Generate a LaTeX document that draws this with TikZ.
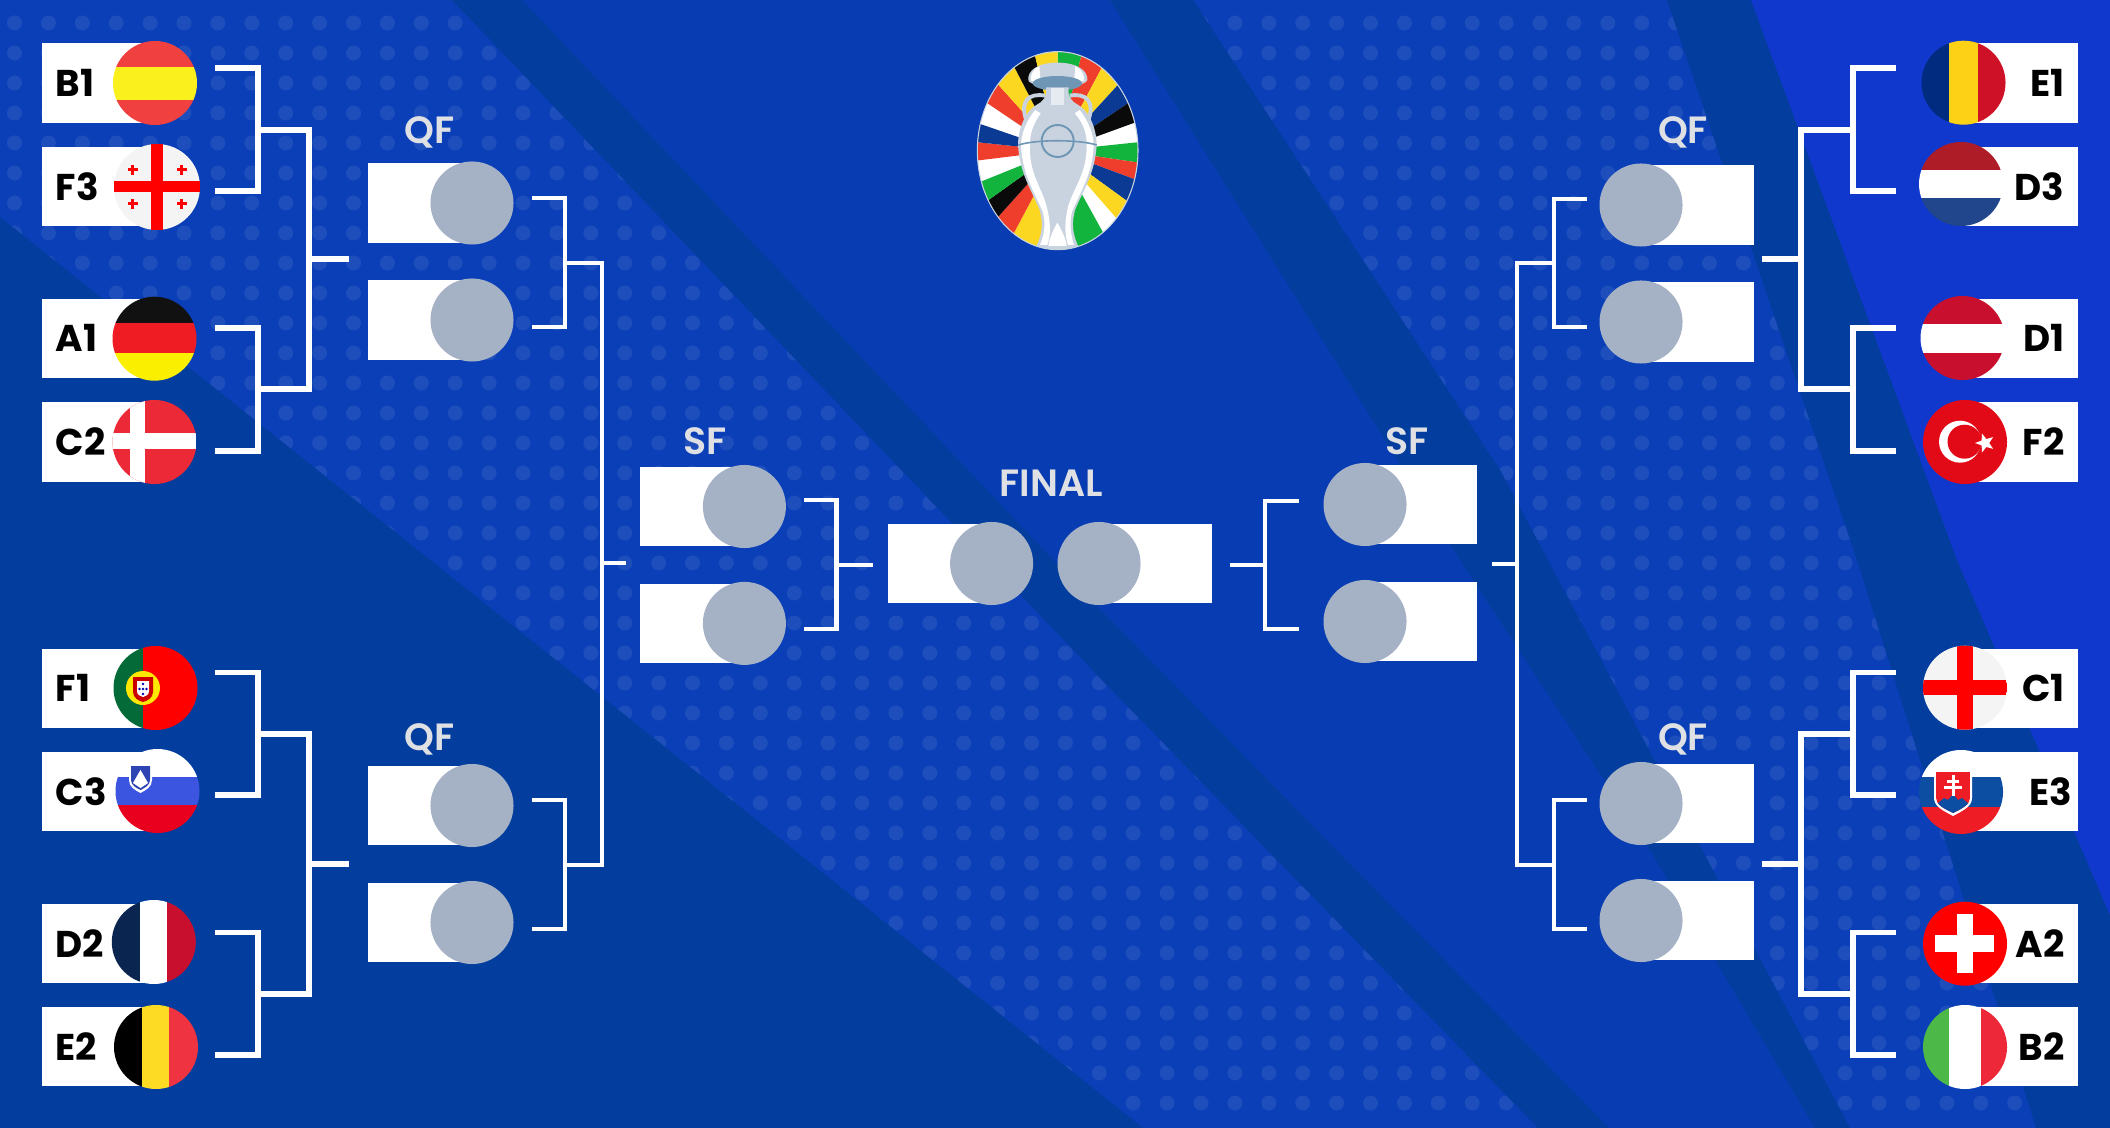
\documentclass[tikz,border=0pt]{standalone}
\usepackage{fontspec}
\setmainfont{Poppins}
\newfontfamily\tagfont{Poppins SemiBold}
\usetikzlibrary{shapes.geometric}

% Background
\definecolor{basecol}{RGB}{8,60,178}
\definecolor{patchcol}{RGB}{10,63,184}
\definecolor{darkcol}{RGB}{3,62,158}
\definecolor{brightcol}{RGB}{16,56,204}
\definecolor{dotcol}{RGB}{30,78,188}
\definecolor{ballcol}{RGB}{165,177,197}
\definecolor{tagcol}{RGB}{222,224,228}
% Logo
\definecolor{rayyellow}{RGB}{251,215,33}
\definecolor{rayred}{RGB}{240,62,44}
\definecolor{rayblue}{RGB}{10,58,147}
\definecolor{rayblack}{RGB}{10,10,10}
\definecolor{raygreen}{RGB}{18,180,62}
\definecolor{cupsilver}{RGB}{200,211,223}
\definecolor{cupblue}{RGB}{111,151,181}
% Flags
\definecolor{esred}{RGB}{240,64,64}
\definecolor{esyellow}{RGB}{249,240,30}
\definecolor{deblack}{RGB}{17,17,17}
\definecolor{dered}{RGB}{239,28,36}
\definecolor{deyellow}{RGB}{251,239,0}
\definecolor{dkred}{RGB}{236,41,55}
\definecolor{ptgreen}{RGB}{4,106,56}
\definecolor{siblue}{RGB}{59,85,224}
\definecolor{sired}{RGB}{232,0,30}
\definecolor{frblue}{RGB}{10,37,80}
\definecolor{frred}{RGB}{200,16,46}
\definecolor{beyellow}{RGB}{253,218,36}
\definecolor{bered}{RGB}{239,51,64}
\definecolor{roblue}{RGB}{0,43,127}
\definecolor{royellow}{RGB}{252,209,22}
\definecolor{rored}{RGB}{206,17,38}
\definecolor{nlred}{RGB}{174,28,40}
\definecolor{nlblue}{RGB}{33,70,139}
\definecolor{atred}{RGB}{200,16,46}
\definecolor{trred}{RGB}{227,10,23}
\definecolor{skblue}{RGB}{11,78,162}
\definecolor{skred}{RGB}{238,28,37}
\definecolor{itgreen}{RGB}{76,184,72}
\definecolor{itred}{RGB}{237,41,57}
\definecolor{offwhite}{RGB}{244,244,244}

\tikzset{
  teamleft/.style={anchor=west, fill=white, inner xsep=0.14cm, inner ysep=0pt, text width=0.86cm,
    minimum height=0.79cm, align=left, font=\bfseries\fontsize{10.6}{12}\selectfont},
  teamright/.style={anchor=east, fill=white, inner xsep=0.135cm, inner ysep=0pt, text width=0.88cm,
    minimum height=0.79cm, align=right, font=\bfseries\fontsize{10.6}{12}\selectfont},
  slotleft/.style={anchor=west, fill=white, inner sep=0pt, minimum height=0.79cm},
  slotright/.style={anchor=east, fill=white, inner sep=0pt, minimum height=0.79cm},
  ball/.style={circle, fill=ballcol, inner sep=0pt, minimum size=0.83cm},
  roundtag/.style={anchor=base, text=tagcol, inner sep=0pt, font=\tagfont\fontsize{10.8}{12}\selectfont},
  link/.style={draw=white, line width=1.5pt},
  thinlink/.style={draw=white, line width=1.2pt},
}

% x, y, two band edges, three colours
\newcommand{\flagH}[7]{%
  \begin{scope}
    \clip (#1,#2) circle (42);
    \fill[#5] (#1-43,#2-43) rectangle (#1+43,#3);
    \fill[#6] (#1-43,#3) rectangle (#1+43,#4);
    \fill[#7] (#1-43,#4) rectangle (#1+43,#2+43);
  \end{scope}}
\newcommand{\flagV}[7]{%
  \begin{scope}
    \clip (#1,#2) circle (42);
    \fill[#5] (#1-43,#2-43) rectangle (#3,#2+43);
    \fill[#6] (#3,#2-43) rectangle (#4,#2+43);
    \fill[#7] (#4,#2-43) rectangle (#1+43,#2+43);
  \end{scope}}

\begin{document}
\begin{tikzpicture}[x=0.01cm, y=-0.01cm]
  \useasboundingbox (0,0) rectangle (2110,1128);
  % Background
  \fill[basecol] (0,0) rectangle (2110,1128);
  \fill[patchcol] (0,0) -- (452,0) -- (1100,678) -- (1538,1128) -- (1143,1128) -- (0,217) -- cycle;
  \fill[patchcol] (1193,0) -- (1667,0) -- (1857,560) -- (2036,1128) -- (1850,1128) -- (1500,470) -- cycle;
  \begin{scope}
    \clip (0,0) -- (452,0) -- (1100,678) -- (1538,1128) -- (1143,1128) -- (0,217) -- cycle
          (1193,0) -- (1667,0) -- (1857,560) -- (2036,1128) -- (1850,1128) -- (1500,470) -- cycle;
    \foreach \i in {0,...,61}
      \foreach \j in {0,...,36}
        \fill[dotcol] ({14.5+33.9*\i},{23+30*\j}) circle (7.5);
  \end{scope}
  \fill[darkcol] (0,217) -- (1143,1128) -- (0,1128) -- cycle;
  \fill[darkcol] (452,0) -- (522,0) -- (1100,609) -- (1609,1128) -- (1538,1128) -- (1100,678) -- cycle;
  \fill[darkcol] (1110,0) -- (1193,0) -- (1500,470) -- (1850,1128) -- (1815,1128) -- (1650,850) -- (1460,560) -- cycle;
  \fill[darkcol] (1667,0) -- (1751,0) -- (1957,560) -- (2110,915) -- (2110,1128) -- (2036,1128) -- (1857,560) -- cycle;
  \fill[brightcol] (1751,0) -- (2110,0) -- (2110,915) -- (1957,560) -- cycle;

  % Team boxes
  \foreach \n/\y in {B1/83, F3/186.3, A1/338.3, C2/442, F1/688.2, C3/791.5, D2/943.5, E2/1046.8}
    \node[teamleft] (team\n) at (41,\y) {\n};
  \foreach \n/\y in {E1/83, D3/186.3, D1/338.3, F2/442, C1/688.2, A2/943.5, B2/1046.8}
    \node[teamright] (team\n) at (2078.6,\y) {\n};
  \node[teamright, inner xsep=0.06cm, text width=1.03cm] (teamE3) at (2078.6,791.5) {E3};

  % Flags left
  \flagH{155}{83}{66.7}{100}{esred}{esyellow}{esred}
  \fill[offwhite] (157,187) circle (43);
  \fill[red] (151,144) rectangle (163,230);
  \fill[red] (114,181.5) rectangle (200,192.5);
  \foreach \x/\y in {132.6/170, 181.6/170, 132.6/204, 181.6/204} {
    \fill[red] (\x-5,\y-1.5) rectangle (\x+5,\y+1.5);
    \fill[red] (\x-1.5,\y-5) rectangle (\x+1.5,\y+5);
  }
  \flagH{154.5}{338.7}{323}{353}{deblack}{dered}{deyellow}
  \begin{scope}
    \clip (154.5,442) circle (42);
    \fill[dkred] (112,400) rectangle (197,484);
    \fill[white] (130,400) rectangle (145,484);
    \fill[white] (112,433) rectangle (197,449);
  \end{scope}
  \flagV{155.5}{688}{143}{143}{ptgreen}{white}{red}
  \fill[yellow!90!orange] (143,688) circle (17);
  \fill[red!80!black] (133,677) -- (153,677) -- (153,692) .. controls (153,698) and (147,701) .. (143,702) .. controls (139,701) and (133,698) .. (133,692) -- cycle;
  \fill[white] (137,681) -- (149,681) -- (149,691) .. controls (149,695) and (146,696) .. (143,697) .. controls (140,696) and (137,695) .. (137,691) -- cycle;
  \foreach \x/\y in {143/684, 143/689, 143/694, 139.5/689, 146.5/689}
    \fill[blue!70!black] (\x,\y) circle (1.3);
  \flagH{157.5}{791}{777}{805}{white}{siblue}{sired}
  \fill[white] (129,764) -- (152,764) -- (152,780) .. controls (152,787) and (146,790) .. (140.5,793) .. controls (135,790) and (129,787) .. (129,780) -- cycle;
  \fill[siblue!80!black] (131,766) -- (150,766) -- (150,780) .. controls (150,785) and (145,788) .. (140.5,790) .. controls (136,788) and (131,785) .. (131,780) -- cycle;
  \fill[white] (133,783) -- (137,776) -- (140.5,770) -- (144,776) -- (148,783) -- (140.5,788) -- cycle;
  \flagV{153.8}{942}{139.6}{167}{frblue}{white}{frred}
  \flagV{156}{1047}{141.6}{169}{black}{beyellow}{bered}

  % Flags right
  \flagV{1963.5}{82.7}{1949}{1978}{roblue}{royellow}{rored}
  \flagH{1961}{184}{170}{198}{nlred}{white}{nlblue}
  \flagH{1962.5}{338}{324}{352.7}{atred}{white}{atred}
  \fill[trred] (1965,442) circle (42);
  \fill[white] (1960,441.7) circle (21);
  \fill[trred] (1964.5,441.7) circle (17);
  \node[star, star points=5, star point ratio=2.4, shape border rotate=90, fill=white, inner sep=0pt, minimum size=0.2cm] (turkstar) at (1985,443) {};
  \fill[offwhite] (1965,687.7) circle (42);
  \begin{scope}
    \clip (1965,687.7) circle (42);
    \fill[red] (1957,645) rectangle (1973,730);
    \fill[red] (1923,680) rectangle (2007,695);
  \end{scope}
  \flagH{1961}{792}{777}{807}{white}{skblue}{skred}
  \fill[white] (1934,770) -- (1972,770) -- (1972,798) .. controls (1972,807) and (1962,811) .. (1953,816) .. controls (1944,811) and (1934,807) .. (1934,798) -- cycle;
  \begin{scope}
    \clip (1936,772) -- (1970,772) -- (1970,798) .. controls (1970,805) and (1961,809) .. (1953,813) .. controls (1945,809) and (1936,805) .. (1936,798) -- cycle;
    \fill[skred] (1936,772) rectangle (1970,815);
    \fill[skblue] (1936,805) -- (1944,798) -- (1948,800) -- (1953,794) -- (1958,800) -- (1962,798) -- (1970,805) -- (1970,815) -- (1936,815) -- cycle;
  \end{scope}
  \fill[white] (1951.5,775) rectangle (1954.5,796);
  \fill[white] (1947,780) rectangle (1959,783);
  \fill[white] (1944,786) rectangle (1962,789);
  \fill[red] (1965,943.7) circle (42);
  \fill[white] (1957,914) rectangle (1973,973);
  \fill[white] (1935,935) rectangle (1994,952);
  \flagV{1965}{1047}{1949}{1981}{itgreen}{white}{itred}

  % Slots
  \foreach \n/\y in {qa/203, qb/320, qc/805.5, qd/922.5} {
    \node[slotleft, minimum width=1.05cm] (slot\n) at (367,\y) {};
    \node[ball] (ball\n) at (472,\y) {};
  }
  \foreach \n/\y in {qe/205, qf/322, qg/803.5, qh/920.5} {
    \node[slotright, minimum width=1.13cm] (slot\n) at (1754.4,\y) {};
    \node[ball] (ball\n) at (1641,\y) {};
  }
  \foreach \n/\y in {sa/506.5, sb/623.4} {
    \node[slotleft, minimum width=1.05cm] (slot\n) at (639,\y) {};
    \node[ball] (ball\n) at (744.4,\y) {};
  }
  \foreach \n/\y in {sc/504.5, sd/621.5} {
    \node[slotright, minimum width=1.13cm] (slot\n) at (1478,\y) {};
    \node[ball] (ball\n) at (1365,\y) {};
  }
  \node[slotleft, minimum width=1.05cm] (slotfa) at (887,563.5) {};
  \node[ball] (ballfa) at (991.6,563.5) {};
  \node[slotright, minimum width=1.13cm] (slotfb) at (1212.5,563.5) {};
  \node[ball] (ballfb) at (1099,563.5) {};

  % Round labels
  \node[roundtag] (tagqa) at (430,143.5) {QF};
  \node[roundtag] (tagqb) at (430,750) {QF};
  \node[roundtag] (tagqc) at (1683,143.5) {QF};
  \node[roundtag] (tagqd) at (1683,750) {QF};
  \node[roundtag] (tagsa) at (705,455) {SF};
  \node[roundtag] (tagsb) at (1407,455) {SF};
  \node[roundtag] (tagfin) at (1051,496.5) {FINAL};

  % Bracket points
  \foreach \n/\x/\y in {
    la/215/68, lb/215/191, lm/258/130, lc/215/328, ld/215/451, ln/258/389, lx/309/259, ly/349/259,
    le/215/672.3, lf/215/795, lo/258/734, lg/215/932.7, lh/215/1055, lp/258/994, lz/309/864, lw/349/864,
    qa/532/198, qb/532/327, qm/565/262.7, qc/532/800, qd/532/929, qn/565/864.7, qx/602/563, qy/626/563,
    sa/804/500, sb/804/629, sm/836.5/564.7, sy/872.7/564.7,
    ta/1299/500.7, tb/1299/629, tm/1265/564.7, ty/1229.7/564.7,
    ra/1586.5/198.7, rb/1586.5/327, rm/1554/262.7, rc/1586.5/800, rd/1586.5/929, rn/1554/865, rx/1517/563.7, ry/1492/563.7,
    ua/1896/68, ub/1896/191, um/1853/130, uc/1896/328, ud/1896/451, un/1853/389, ux/1801/259, uy/1762.4/259,
    ue/1896/672.3, uf/1896/795, uo/1853/734, ug/1896/932.7, uh/1896/1055, up/1853/994, uz/1801/864, uw/1762.4/864}
    \coordinate (\n) at (\x,\y);

  % Brackets
  \foreach \a/\m/\b in {la/lm/lb, lc/ln/ld, le/lo/lf, lg/lp/lh, ua/um/ub, uc/un/ud, ue/uo/uf, ug/up/uh,
    lm/lx/ln, lo/lz/lp, um/ux/un, uo/uz/up}
    \draw[link] (\a) -| (\m) |- (\b);
  \foreach \a/\m/\b in {qa/qm/qb, qc/qn/qd, qm/qx/qn, sa/sm/sb, ta/tm/tb, ra/rm/rb, rc/rn/rd, rm/rx/rn}
    \draw[thinlink] (\a) -| (\m) |- (\b);
  \foreach \a/\b in {lx/ly, lz/lw, ux/uy, uz/uw}
    \draw[link] (\a) -- (\b);
  \foreach \a/\b in {qx/qy, sm/sy, tm/ty, rx/ry}
    \draw[thinlink] (\a) -- (\b);

  % Logo
  \begin{scope}[shift={(950,30)}, scale=1/3]
    \begin{scope}[shift={(323,362)}]
      \fill[white] (0,0) ellipse (241 and 297);
      \clip (0,0) ellipse (241 and 297);
      \foreach \a/\b/\c in {-90/-76/raygreen, -76/-62/rayred, -62/-47.5/rayyellow, -47.5/-34/rayblue,
        -34/-20/rayblack, -6/8.4/raygreen, 8.4/20.4/rayred, 20.4/36/rayblue, 36/49/rayyellow,
        61/85/raygreen, 96/118/rayyellow, 118/132/rayred, 132/144.5/rayblack, 144.5/158/raygreen,
        173/186/rayred, 186/199/rayblue, 214/228/rayred, 228/242.6/rayyellow, 242.6/256.6/rayblack,
        256.6/270/rayyellow}
        \fill[\c] (0,0) -- (\a:420) -- (\b:420) -- cycle;
    \end{scope}
    \begin{scope}
      \clip (323,362) ellipse (241 and 297);
      % Handles
      \draw[cupsilver, line width=1.1pt] (285,197) .. controls (235,188) and (210,215) .. (228,268);
      \draw[cupsilver, line width=1.1pt] (359,197) .. controls (409,188) and (434,215) .. (416,268);
      % Cup
      \fill[cupsilver] (235,150) .. controls (232,122) and (262,98) .. (322,98) .. controls (382,98) and (414,122) .. (412,150) .. controls (405,178) and (240,178) .. (235,150) -- cycle;
      \fill[white] (242,152) .. controls (240,132) and (252,116) .. (268,108) -- (272,160) -- cycle;
      \fill[white] (402,152) .. controls (404,132) and (392,116) .. (376,108) -- (372,160) -- cycle;
      \fill[cupblue] (322,160) ellipse (74 and 22);
      \fill[cupsilver] (288,172) -- (356,172) .. controls (352,200) and (365,215) .. (385,225)
        .. controls (420,245) and (440,300) .. (440,345) .. controls (435,430) and (400,480) .. (375,540)
        .. controls (365,580) and (365,610) .. (390,660) -- (254,660)
        .. controls (279,610) and (279,580) .. (269,540) .. controls (244,480) and (209,430) .. (204,345)
        .. controls (204,300) and (224,245) .. (259,225) .. controls (279,215) and (292,200) .. (288,172) -- cycle;
      \fill[white!55!cupsilver] (302,174) rectangle (342,226);
      \fill[white] (255,240) .. controls (228,275) and (214,310) .. (213,345) .. controls (216,430) and (250,480) .. (278,545)
        .. controls (285,570) and (288,600) .. (270,645) -- (292,645) .. controls (305,610) and (300,570) .. (290,530)
        .. controls (275,470) and (235,430) .. (240,340) .. controls (240,300) and (258,270) .. (272,250) -- cycle;
      \fill[white] (389,240) .. controls (416,275) and (430,310) .. (431,345) .. controls (428,430) and (394,480) .. (366,545)
        .. controls (360,570) and (358,600) .. (372,645) -- (354,645) .. controls (342,610) and (345,570) .. (354,530)
        .. controls (372,470) and (412,430) .. (410,340) .. controls (410,300) and (392,270) .. (374,250) -- cycle;
      \fill[white] (322,578) .. controls (310,600) and (298,625) .. (295,648) -- (350,648) .. controls (347,625) and (335,600) .. (322,578) -- cycle;
      % Ball
      \draw[cupblue, line width=0.55pt] (323,333) circle (48);
      \draw[cupblue, line width=0.45pt] (205,345) .. controls (260,328) and (385,328) .. (440,345);
    \end{scope}
    \draw[cupsilver, line width=0.3pt] (323,362) ellipse (241 and 297);
  \end{scope}
\end{tikzpicture}
\end{document}
